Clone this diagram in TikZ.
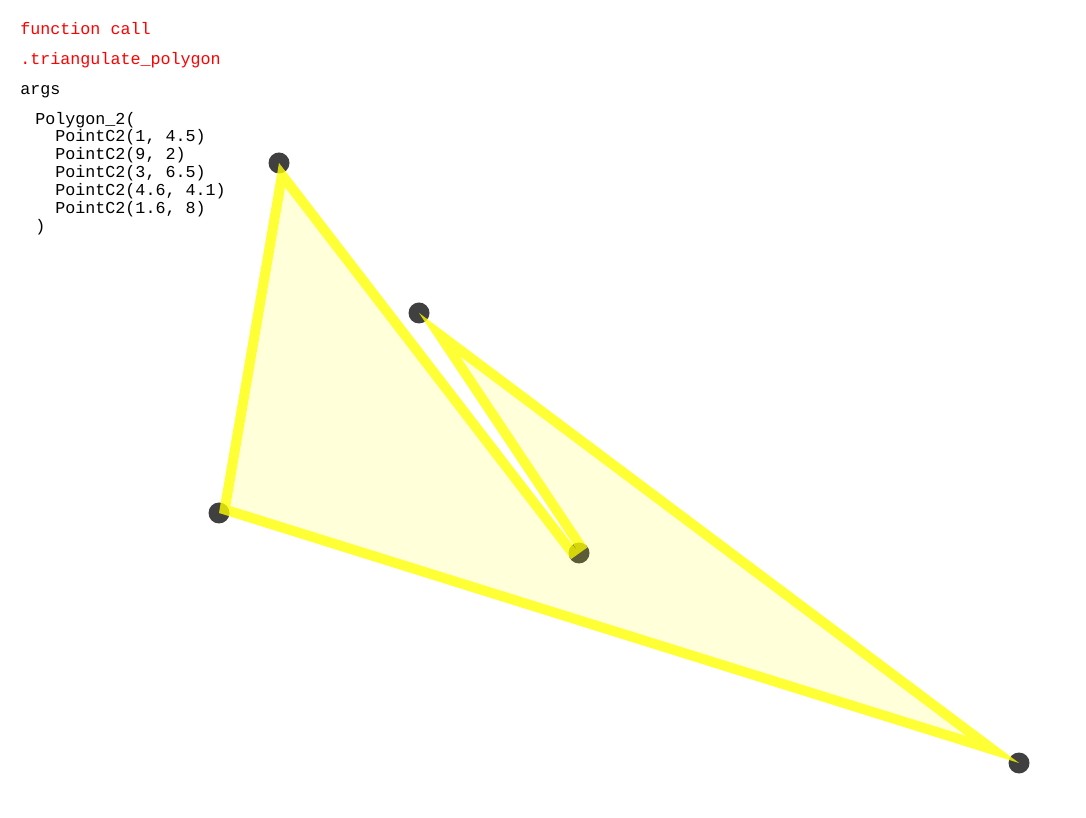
\documentclass[tikz,border=0pt]{standalone}
\usepackage{fontspec}
\setmonofont{Liberation Mono}
\usepackage{tikz}
\usetikzlibrary{positioning}
\definecolor{dotgray}{HTML}{404040}
\definecolor{edgeyellow}{HTML}{FFFF00}

\begin{document}
\begin{tikzpicture}[
  x=2cm, y=2cm,
  font=\fontsize{9.5}{11}\selectfont\ttfamily,
  label/.style={anchor=base west, inner sep=0pt},
  callname/.style={label, text=red},
  vertex/.style={circle, fill=dotgray, inner sep=0pt, minimum size=0.42cm},
  polyfill/.style={fill=edgeyellow, fill opacity=0.15},
  polyedge/.style={draw=edgeyellow, draw opacity=0.75, line width=0.4cm, line join=miter}
]
\useasboundingbox (-1.19,1.46) rectangle (9.67,9.63);

% header
\node[callname] (fcall) at (-0.99,9.28) {function call};
\node[callname] (fname) at (-0.99,8.98) {.triangulate\_polygon};
\node[label] (args) at (-0.99,8.68) {args};

% argument listing
\node[label] (poly) at (-0.84,8.38) {Polygon\_2(};
\foreach \i/\txt in {0/{1, 4.5},1/{9, 2},2/{3, 6.5},3/{4.6, 4.1},4/{1.6, 8}}
  \node[label] (arg\i) at (-0.64,8.21-0.18*\i) {PointC2(\txt)};
\node[label] (close) at (-0.84,7.31) {)};

% polygon vertices
\coordinate (a) at (1,4.5);
\coordinate (b) at (9,2);
\coordinate (c) at (3,6.5);
\coordinate (d) at (4.6,4.1);
\coordinate (e) at (1.6,8);
\foreach \v in {a,b,c,d,e}
  \node[vertex] (dot\v) at (\v) {};

\fill[polyfill] (a) -- (b) -- (c) -- (d) -- (e) -- cycle;
\begin{scope}
  \clip (a) -- (b) -- (c) -- (d) -- (e) -- cycle;
  \draw[polyedge] (a) -- (b) -- (c) -- (d) -- (e) -- cycle;
\end{scope}
\end{tikzpicture}
\end{document}
